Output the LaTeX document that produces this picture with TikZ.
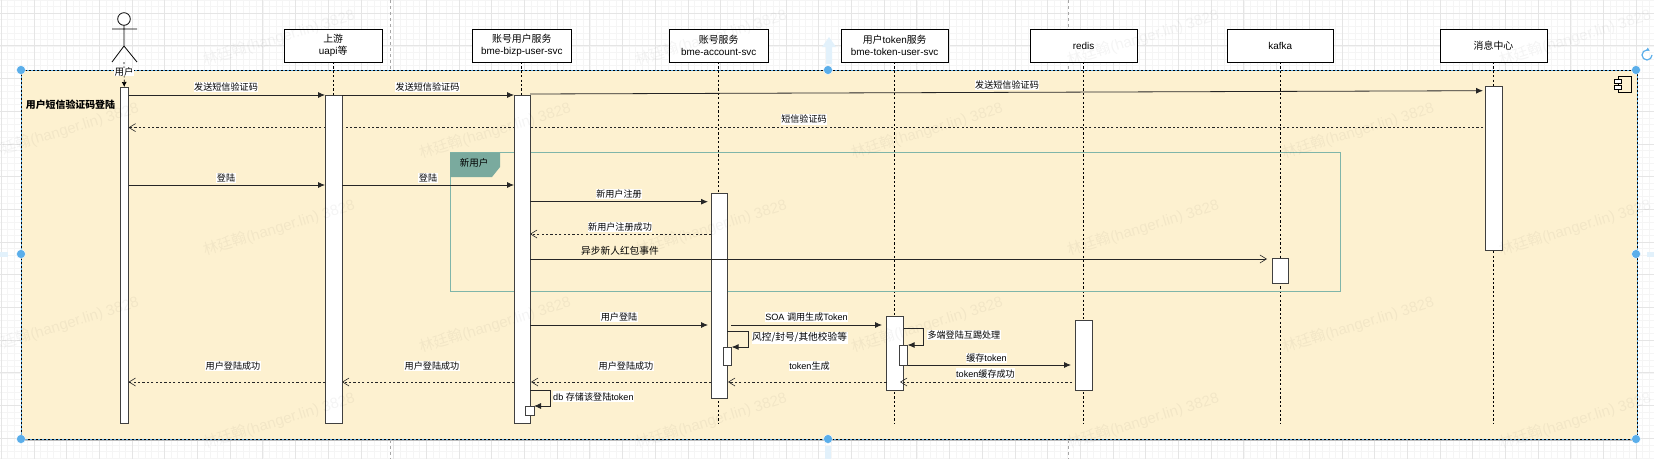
\documentclass[tikz,border=0pt]{standalone}
\usepackage{fontspec}
\setmainfont{Liberation Sans}
\newfontfamily\cjk{Noto Sans CJK SC}
\newcommand\zh[1]{{\cjk #1}}
\usetikzlibrary{arrows.meta,fit}
\definecolor{paper}{HTML}{FDF1D0}
\definecolor{teal}{HTML}{7FB5A9}
\definecolor{tagc}{HTML}{7AAA9E}
\definecolor{handle}{HTML}{5AAEEA}
\definecolor{hover}{HTML}{E2F1FB}
\tikzset{
  x=1pt,y=-1pt,
  every node/.style={inner sep=0pt,outer sep=0pt},
  headbox/.style={draw=black,line width=.8pt,fill=white,minimum height=33pt,align=center,font=\fontsize{9.9}{12.5}\selectfont},
  activ/.style={draw=black!75,line width=.9pt,fill=white},
  lifeline/.style={draw=black,line width=.7pt,dash pattern=on 2.2pt off 2.2pt},
  msg/.style={draw=black!85,line width=.8pt,-{Latex[length=7pt,width=6pt]}},
  amsg/.style={draw=black!85,line width=.8pt,-{Straight Barb[length=6.5pt,width=8pt,line width=.6pt]}},
  ret/.style={draw=black!85,line width=.8pt,dash pattern=on 2.2pt off 2.2pt,-{Straight Barb[length=6.5pt,width=8pt,line width=.6pt]}},
  lab/.style={fill=white,font=\fontsize{9.1}{10}\selectfont,inner xsep=.5pt,inner ysep=1pt},
  wmark/.style={font=\fontsize{15}{15}\selectfont,text=black,opacity=.045,rotate=17},
  grip/.style={circle,fill=handle,draw=white,line width=.4pt,minimum size=9pt},
}
\begin{document}
\begin{tikzpicture}
\useasboundingbox (0,0) rectangle (1654,459);
\fill[white] (0,0) rectangle (1654,459);
% grid
\foreach \i in {0,...,255}{\draw[black!4,line width=.4pt] ({1.1+6.54*\i},0) -- ({1.1+6.54*\i},459);}
\foreach \i in {0,...,71}{\draw[black!4,line width=.4pt] (0,{0+6.54*\i}) -- (1654,{0+6.54*\i});}
\foreach \i in {0,...,51}{\draw[black!10,line width=.5pt] ({1.1+32.7*\i},0) -- ({1.1+32.7*\i},459);}
\foreach \i in {0,...,14}{\draw[black!10,line width=.5pt] (0,{13+32.7*\i}) -- (1654,{13+32.7*\i});}
% stray background lifelines
\foreach \x in {390,1068}{\draw[black!35,line width=.6pt,dash pattern=on 3pt off 3pt] (\x,0) -- (\x,70) (\x,440) -- (\x,459);}
% hover arrows
\fill[hover] (829,37) -- (836,47) -- (832,47) -- (832,64) -- (826,64) -- (826,47) -- (822,47) -- cycle;
\fill[hover] (825,446) rectangle (831,459);
\fill[hover] (1647,251.5) rectangle (1654,256.5);
\fill[hover] (0,251.5) rectangle (8,256.5);
% frame
\fill[black!25] (21,439) rectangle (1637,441);
\node (frame) [fill=paper,draw=handle,line width=1pt,fit={(21,70) (1637,439)}] {};
\draw[black,line width=.6pt,dash pattern=on 2pt off 2pt] (frame.north west) rectangle (frame.south east);
% component icon
\draw[black,line width=.7pt,fill=paper] (1618,76) rectangle (1631.7,92);
\draw[black,line width=.7pt,fill=white] (1614.7,79.5) rectangle (1621.7,83) (1614.7,85.5) rectangle (1621.7,89);
\node (title) at (70.5,105) {\cjk\bfseries\fontsize{9.9}{11}\selectfont 用户短信验证码登陆};
% heads
\node (hUp) [headbox,minimum width=98.5pt] at (333.2,45.5) {\zh{上游}\\uapi\zh{等}};
\node (hB)  [headbox,minimum width=98.5pt]   at (521.8,45.5) {\zh{账号用户服务}\\bme-bizp-user-svc};
\node (hA)  [headbox,minimum width=99pt]   at (718.7,45.5) {\zh{账号服务}\\bme-account-svc};
\node (hT)  [headbox,minimum width=107pt]  at (894.7,45.5) {\zh{用户}token\zh{服务}\\bme-token-user-svc};
\node (hR)  [headbox,minimum width=107pt]  at (1083.5,45.5) {redis};
\node (hK)  [headbox,minimum width=106.7pt] at (1280.3,45.5) {kafka};
\node (hM)  [headbox,minimum width=107pt]  at (1493.5,45.5) {\zh{消息中心}};
% actor
\draw[black,line width=.8pt,fill=white] (124,19) circle (6.3);
\draw[black,line width=.8pt] (124,25.3) -- (124,46) (112,29) -- (137,29) (112,62) -- (124,46) -- (137,62);
% lifeline ends
\coordinate (eUp) at (333.2,423);
\coordinate (eB) at (521.8,423);
\coordinate (eA) at (718.7,423);
\coordinate (eT) at (894.7,423);
\coordinate (eR) at (1083.5,423);
\coordinate (eK) at (1280.3,423);
\coordinate (eM) at (1493.5,423);
\foreach \h/\e in {hUp/eUp,hB/eB,hA/eA,hT/eT,hR/eR,hK/eK,hM/eM}{\draw[lifeline] (\h.south) -- (\e);}
\coordinate (uTop) at (124,62);
% alt frame
\draw[teal,line width=.9pt] (450,152.7) rectangle (1340,291.7);
% user bar, then the long dashed return, then the bars it passes under
\node (aU) [activ,fit={(120,87) (128.5,423)}] {};
\draw[ret] (1483,127.6) coordinate (s1) -- (aU.east |- s1);
\node (aUp)[activ,fit={(325,95) (342,423)}] {};
\node (aB) [activ,fit={(514,95) (530,423)}] {};
\node (aA) [activ,fit={(711,193) (727,398)}] {};
\node (aT) [activ,fit={(886.5,316) (903.5,390)}] {};
\node (aR) [activ,fit={(1075.3,320) (1092,390)}] {};
\node (aK) [activ,fit={(1272,258.7) (1288.7,283)}] {};
\node (aM) [activ,fit={(1485,86) (1502,250.7)}] {};
\draw[lifeline,-{Latex[length=5pt,width=5pt]}] (uTop) -- (aU.north);
\node (ulab) [fill=white,font=\fontsize{9.5}{10}\selectfont,inner xsep=.5pt] at (124,72) {\zh{用户}};
% tag
\path[fill=tagc] (450,152.7) -- (500,152.7) -- (500,167) -- (492,177) -- (450,177) -- cycle;
\node (tag) [font=\fontsize{9.5}{10}\selectfont] at (474,163) {\zh{新用户}};
% messages
\draw[msg] (aU.east |- 0,95) -- (aUp.west |- 0,95);
\node (l1) [lab] at (226,87) {\zh{发送短信验证码}};
\draw[msg] (aUp.east |- 0,95) -- (aB.west |- 0,95);
\node (l2) [lab] at (427.5,87) {\zh{发送短信验证码}};
\draw[msg] (aB.east |- 0,94) -- (1483,90.7);
\node (l3) [lab] at (1007,85) {\zh{发送短信验证码}};
\node (l4) [lab] at (804,119.5) {\zh{短信验证码}};
\draw[msg] (aU.east |- 0,185) -- (aUp.west |- 0,185);
\node (l5) [lab] at (226,178) {\zh{登陆}};
\draw[msg] (aUp.east |- 0,185) -- (aB.west |- 0,185);
\node (l6) [lab] at (428,178) {\zh{登陆}};
\draw[msg] (aB.east |- 0,201.7) -- (708,201.7);
\node (l7) [lab] at (619,194) {\zh{新用户注册}};
\draw[ret] (aA.west |- 0,234) -- (aB.east |- 0,234);
\node (l8) [lab] at (620,227) {\zh{新用户注册成功}};
\draw[amsg] (aB.east |- 0,259) -- (1267,259);
\node (l9) [font=\fontsize{9.7}{11}\selectfont] at (620,250.7) {\zh{异步新人红包事件}};
\draw[msg] (aB.east |- 0,325) -- (708,325);
\node (l10) [lab] at (619,317) {\zh{用户登陆}};
\draw[msg] (731,325) -- (882,325);
\node (l11) [lab] at (806.5,317) {SOA \zh{调用生成}Token};
% self calls
\node (sA) [activ,line width=.8pt,fit={(723.6,347) (731.6,365.7)}] {};
\draw[msg] (aA.east |- 0,331) -- (748,331) -- (748,347) -- (sA.east |- 0,347);
\node (l12) [lab,anchor=west,font=\fontsize{9.7}{10}\selectfont] at (751.6,337.7) {\zh{风控/封号/其他校验等}};
\node (sT) [activ,line width=.8pt,fit={(899,345) (907.6,365)}] {};
\draw[msg] (aT.east |- 0,328) -- (923.6,328) -- (923.6,345) -- (sT.east |- 0,345);
\node (l13) [lab,anchor=west] at (927,335) {\zh{多端登陆互踢处理}};
\draw[msg] (sT.east |- 0,365) -- (1071,365);
\node (l14) [lab] at (986.5,357.7) {\zh{缓存}token};
\draw[ret] (1072,382) -- (900,382);
\node (l15) [lab] at (985.5,373.7) {token\zh{缓存成功}};
\draw[ret] (aT.west |- 0,382) -- (728,382);
\node (l16) [lab] at (809.5,366) {token\zh{生成}};
\draw[ret] (aA.west |- 0,382) -- (531,382);
\node (l17) [lab] at (626,366) {\zh{用户登陆成功}};
\draw[ret] (aB.west |- 0,382) -- (aUp.east |- 0,382);
\node (l18) [lab] at (432,366) {\zh{用户登陆成功}};
\draw[ret] (aUp.west |- 0,382) -- (aU.east |- 0,382);
\node (l19) [lab] at (233,366) {\zh{用户登陆成功}};
\node (sB) [activ,line width=.8pt,fit={(525.5,406) (534,415)}] {};
\draw[msg] (aB.east |- 0,390) -- (550,390) -- (550,406) -- (sB.east |- 0,406);
\node (l20) [lab,anchor=west] at (552.7,396.7) {db \zh{存储该登陆}token};
% selection handles
\foreach \p in {(21,70),(828,70),(1636,70),(1636,254),(1636,439),(828,439),(21,439),(21,254)}{\node[grip] at \p {};}
\draw[handle,line width=1.2pt,-{Latex[length=3pt,width=4pt]}] (1652,55) arc (0:300:5);
% watermarks
\foreach \p in {(279,38),(711,38),(1143,38),(1575,38),(63,131),(495,131),(927,131),(1358,131),(279,228),(711,228),(1143,228),(1575,228),(63,325),(495,325),(927,325),(1358,325),(279,421),(711,421),(1143,421),(1575,421)}{
  \node[wmark] at \p {\zh{林廷翰}(hanger.lin) 3828};}
\end{tikzpicture}
\end{document}
